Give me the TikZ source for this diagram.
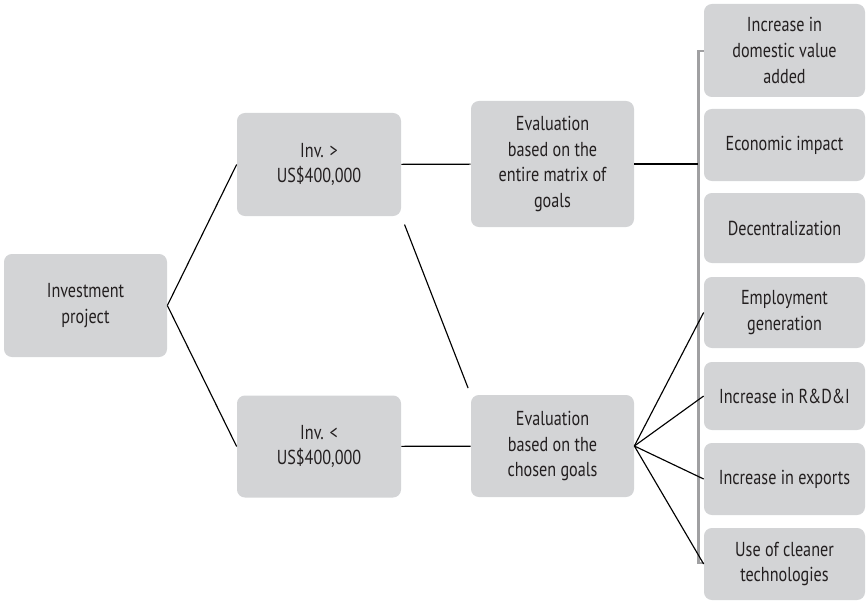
\documentclass[tikz,border=0pt]{standalone}
\usepackage{fontspec}
\setmainfont{PT Sans}[FakeStretch=0.8]
\usepackage{tikz}
\usetikzlibrary{positioning}
\definecolor{boxgray}{RGB}{211,212,214}
\definecolor{txtgray}{RGB}{35,31,32}
\definecolor{brkgray}{RGB}{160,160,162}

\begin{document}
\begin{tikzpicture}[
  box/.style={fill=boxgray, rounded corners=4.5pt, minimum width=3.26cm,
    font=\fontsize{11.5}{14.7}\selectfont, text=txtgray, align=center, inner sep=2pt},
  goal/.style={box, minimum width=3.22cm},
  link/.style={line width=0.65pt, black},
  brace/.style={line width=1.7pt, brkgray}
]
\useasboundingbox (0,0) rectangle (17.32,-12.04);

\node[box, minimum height=2.06cm] (proj) at (1.71,-6.11) {Investment\\project};
\node[box, minimum width=3.28cm, minimum height=2.06cm] (invhi) at (6.38,-3.29) {Inv. >\\US\$400,000};
\node[box, minimum width=3.28cm, minimum height=2.04cm] (invlo) at (6.38,-8.93) {Inv. <\\US\$400,000};
\node[box, minimum height=2.52cm] (evalall) at (11.05,-3.28) {Evaluation\\based on the\\entire matrix of\\goals};
\node[box, minimum height=2.04cm] (evalsel) at (11.05,-8.92) {Evaluation\\based on the\\chosen goals};

\node[goal, minimum height=1.86cm] (g1) at (15.69,-1.01) {Increase in\\domestic value\\added};
\node[goal, minimum height=1.44cm] (g2) at (15.69,-2.90) {Economic impact};
\node[goal, minimum height=1.40cm] (g3) at (15.69,-4.56) {Decentralization};
\node[goal, minimum height=1.42cm] (g4) at (15.69,-6.25) {Employment\\generation};
\node[goal, minimum height=1.36cm] (g5) at (15.69,-7.92) {Increase in R\&D\&I};
\node[goal, minimum height=1.44cm] (g6) at (15.69,-9.58) {Increase in exports};
\node[goal, minimum height=1.44cm] (g7) at (15.69,-11.28) {Use of cleaner\\technologies};

% grey bracket over the goals
\coordinate (btop) at (13.96,-1.02);
\coordinate (bbot) at (13.96,-11.26);
\coordinate (bmid) at (13.96,-3.28);
\draw[brace] (g1.west |- btop) -- (btop) -- (bbot) -- (g7.west |- bbot);

\draw[link] (proj.east) -- (invhi.west);
\draw[link] (proj.east) -- (invlo.west);
\draw[link] (invhi) -- (evalall);
\draw[link] (invlo) -- (evalsel);
\draw[link, shorten <=5pt, shorten >=4pt] (invhi.south east) -- (evalsel.north west);
\draw[link] (evalall) -- (bmid);

\foreach \g in {g4,g5,g6,g7}
  \draw[link] (evalsel.east) -- (\g.west);
\end{tikzpicture}
\end{document}
